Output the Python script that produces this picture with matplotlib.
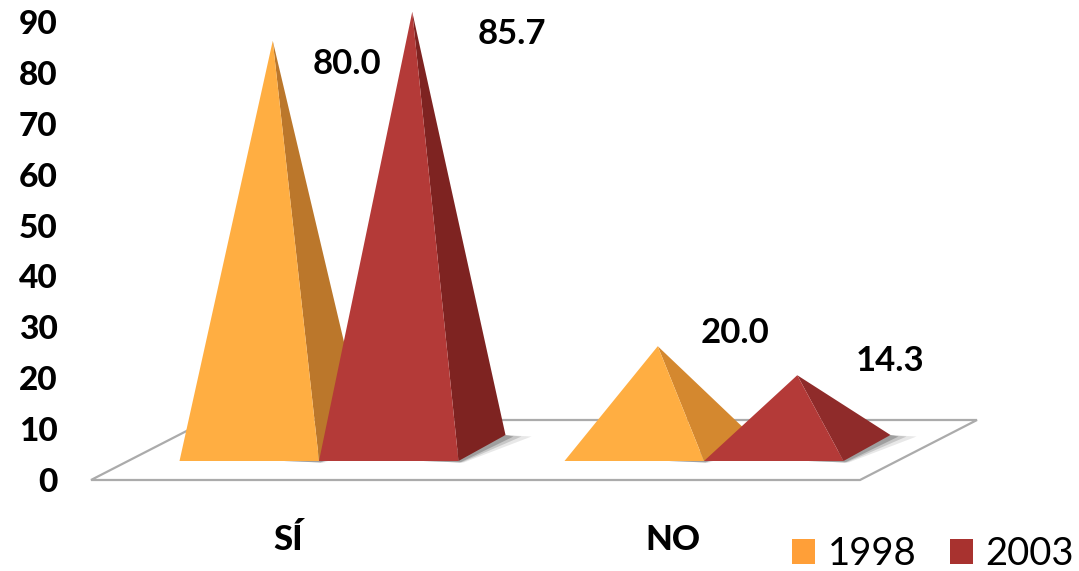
import matplotlib
matplotlib.use('Agg')
from matplotlib import pyplot as plt
from matplotlib.patches import Patch, Polygon

categories = ['SÍ', 'NO']
years = ['1998', '2003']
values_1998 = [80.0, 20.0]
values_2003 = [85.7, 14.3]
y_ticks = [0, 10, 20, 30, 40, 50, 60, 70, 80, 90]

# pixel scale of the original slide
W, H = 1079, 571
PX_X = 385.0   # px per category
PX_Y = 5.09    # px per value unit
LEFT = 70
ZERO = 480

bar_w = 139.5 / PX_X
depth_x = 47 / PX_X
depth_y = 26 / PX_Y
base_y = 19 / PX_Y
floor_left = -228 / PX_X
floor_right = 541 / PX_X
floor_dx = 117 / PX_X
floor_dy = 60 / PX_Y

front_colors = {'1998': '#FFAE42', '2003': '#B43A38'}
side_tall = {'1998': '#BB772B', '2003': '#7E2321'}
side_short = {'1998': '#D4882F', '2003': '#8F2B2A'}
legend_colors = {'1998': '#FF9F38', '2003': '#A8322F'}
label_offsets = {'1998': [(74, -23), (77, 13)], '2003': [(100, -22), (93, 14)]}

plt.rcParams['font.family'] = ['Lato', 'DejaVu Sans']

fig = plt.figure(figsize=(W / 100, H / 100), dpi=100)
ax = fig.add_axes([LEFT / W, (H - ZERO) / H, 1 - LEFT / W, ZERO / H])
ax.set_xlim((LEFT - 319) / PX_X, (W - 319) / PX_X)
ax.set_ylim(0, ZERO / PX_Y)
for s in ax.spines.values():
    s.set_visible(False)


def poly(points, **kw):
    p = Polygon(points, closed=True, clip_on=False, **kw)
    ax.add_patch(p)
    return p


# floor
poly([(floor_left, 0), (floor_right, 0),
      (floor_right + floor_dx, floor_dy), (floor_left + floor_dx, floor_dy)],
     facecolor='white', edgecolor='#ABABAB', linewidth=1.6, zorder=1)


def pyramid(left, value, year, z):
    right = left + bar_w
    tip = (left + bar_w / 2 + depth_x / 2, value + base_y + depth_y / 2)
    back = (right + depth_x, base_y + depth_y)
    # soft shadow on the floor
    for grow, alpha in [(26, 0.12), (16, 0.2), (8, 0.3)]:
        g = grow / PX_X
        poly([(left + bar_w * 0.75, base_y), (right + g * 0.2, base_y - 0.3),
              (back[0] + g, back[1] - 0.3), back],
             facecolor='#444444', edgecolor='none', alpha=alpha, zorder=z)
    sides = side_tall if value > 50 else side_short
    poly([(right, base_y), back, tip], facecolor=sides[year], edgecolor='none', zorder=z + 0.1)
    poly([(left, base_y), (right, base_y), tip], facecolor=front_colors[year], edgecolor='none', zorder=z + 0.2)
    return tip


for i in range(len(categories)):
    tip_a = pyramid(i - bar_w, values_1998[i], '1998', 2 + i * 2)
    tip_b = pyramid(i, values_2003[i], '2003', 3 + i * 2)
    ax.annotate(f'{values_1998[i]:.1f}', tip_a, xytext=label_offsets['1998'][i],
                textcoords='offset pixels', ha='center', va='center',
                fontsize=25, fontweight='bold', color='black', zorder=10)
    ax.annotate(f'{values_2003[i]:.1f}', tip_b, xytext=label_offsets['2003'][i],
                textcoords='offset pixels', ha='center', va='center',
                fontsize=25, fontweight='bold', color='black', zorder=10)

ax.set_yticks(y_ticks)
ax.set_yticklabels([str(t) for t in y_ticks], fontsize=24, fontweight=900)
ax.tick_params(axis='y', length=0, pad=9)

ax.set_xticks([i - 31 / PX_X for i in range(len(categories))])
ax.set_xticklabels(categories, fontsize=25, fontweight=900)
ax.tick_params(axis='x', length=0, pad=32)

handles = [Patch(facecolor=legend_colors[y], edgecolor='none', label=y) for y in years]
fig.legend(handles=handles, loc='lower right', bbox_to_anchor=(1074 / W, 1 - 572 / H),
           ncol=2, frameon=False, fontsize=27.5, handlelength=0.6, handleheight=0.6,
           handletextpad=0.33, columnspacing=0.87, borderpad=0, borderaxespad=0)

fig.savefig('out.png', dpi=100)
